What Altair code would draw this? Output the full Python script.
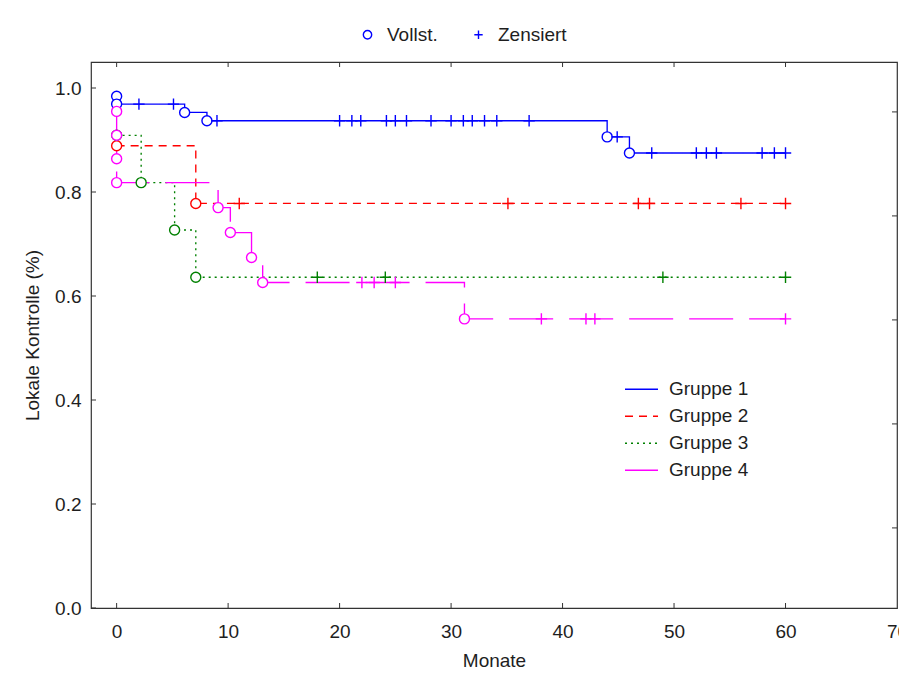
import altair as alt
import pandas as pd

# ---- data -------------------------------------------------------------
groups = ["Gruppe 1", "Gruppe 2", "Gruppe 3", "Gruppe 4"]
colors = ["#0000ff", "#ff0000", "#008000", "#ff00ff"]
dashes = [[1, 0], [8, 6], [2, 4], [44, 16]]
marker_types = ["Vollst.", "Zensiert"]
marker_shapes = ["circle", "M-1,0H1M0,-1V1"]

# events: time (months) and survival estimate right after the event
g1_event_t = [0, 0, 6.1, 8.1, 44.0, 46.0]
g1_event_s = [0.984, 0.969, 0.953, 0.937, 0.906, 0.875]
g1_cens_t = [2.0, 5.1, 9.0, 20.0, 21.1, 21.9, 24.2, 25.0, 26.0, 28.2, 30.0,
             31.1, 31.9, 33.0, 34.1, 37.0, 44.9, 48.0, 52.0, 52.9, 53.8,
             57.9, 59.0, 60.0]

g2_event_t = [0, 7.1]
g2_event_s = [0.889, 0.778]
g2_cens_t = [11.0, 35.1, 46.8, 47.8, 56.0, 60.0]

g3_event_t = [0, 2.2, 5.2, 7.1]
g3_event_s = [0.909, 0.818, 0.727, 0.636]
g3_cens_t = [18.0, 24.1, 49.0, 60.0]

g4_event_t = [0, 0, 0, 0, 9.1, 10.2, 12.1, 13.1, 31.2]
g4_event_s = [0.955, 0.909, 0.864, 0.818, 0.770, 0.722, 0.674, 0.626, 0.556]
g4_cens_t = [22.0, 23.1, 25.0, 38.1, 42.1, 42.9, 60.0]

x_ticks = [0, 10, 20, 30, 40, 50, 60, 70]
y_ticks = [0.0, 0.2, 0.4, 0.6, 0.8, 1.0]
right_ticks = [0.954, 0.754, 0.554, 0.354, 0.154]

series = [
    (g1_event_t, g1_event_s, g1_cens_t),
    (g2_event_t, g2_event_s, g2_cens_t),
    (g3_event_t, g3_event_s, g3_cens_t),
    (g4_event_t, g4_event_s, g4_cens_t),
]

# ---- tables -----------------------------------------------------------
line_rows, point_rows = [], []
for name, (ev_t, ev_s, cens_t) in zip(groups, series):
    i = 0
    for t, s in zip(ev_t, ev_s):
        line_rows.append({"Gruppe": name, "t": t, "S": s, "i": i})
        point_rows.append({"Gruppe": name, "t": t, "S": s, "Typ": "Vollst."})
        i += 1
    # curve continues flat up to the last follow-up time
    line_rows.append({"Gruppe": name, "t": max(cens_t), "S": ev_s[-1], "i": i})
    for t in cens_t:
        s_at = [s for et, s in zip(ev_t, ev_s) if et <= t][-1]
        point_rows.append({"Gruppe": name, "t": t, "S": s_at, "Typ": "Zensiert"})

lines = pd.DataFrame(line_rows)
points = pd.DataFrame(point_rows)
key = pd.DataFrame({"Symbol": marker_types})

FONT = "Liberation Sans, Arial, sans-serif"
TEXT = "#1e1e1e"

xs = alt.Scale(domain=[-2.3, 70], nice=False, zero=False)
ys = alt.Scale(domain=[0, 1.05], nice=False, zero=False)
W, H = 806, 546

group_legend = alt.Legend(
    title=None, orient="none", legendX=533, legendY=314,
    symbolType="stroke", symbolSize=1089, clipHeight=26.5,
    symbolStrokeWidth=1.5, labelOffset=10, rowPadding=0, padding=0,
    labelFont=FONT, labelFontSize=19, labelColor=TEXT,
)

curve = alt.Chart(lines).mark_line(interpolate="step-after", strokeWidth=1.35).encode(
    x=alt.X("t:Q", scale=xs,
            axis=alt.Axis(values=x_ticks, title="Monate", labelPadding=14,
                          titlePadding=10, labelFlush=False, labelOverlap=False)),
    y=alt.Y("S:Q", scale=ys,
            axis=alt.Axis(values=y_ticks, format=".1f", title="Lokale Kontrolle (%)",
                          labelPadding=10, titlePadding=12)),
    color=alt.Color("Gruppe:N", scale=alt.Scale(domain=groups, range=colors),
                    legend=group_legend),
    strokeDash=alt.StrokeDash("Gruppe:N", scale=alt.Scale(domain=groups, range=dashes),
                              legend=group_legend),
    detail="Gruppe:N",
    order="i:Q",
)

# event circles and censoring crosses on the curves
markers = alt.Chart(points).mark_point(filled=False, fill="white", fillOpacity=1,
                                       strokeWidth=1.4, opacity=1).encode(
    x=alt.X("t:Q", scale=xs),
    y=alt.Y("S:Q", scale=ys),
    shape=alt.Shape("Typ:N", scale=alt.Scale(domain=marker_types, range=marker_shapes),
                    legend=None),
    size=alt.Size("Typ:N", scale=alt.Scale(domain=marker_types, range=[100, 130]),
                  legend=None),
    stroke=alt.Stroke("Gruppe:N", scale=alt.Scale(domain=groups, range=colors), legend=None),
)

# marker key above the plot (its layer draws no data, only carries the legend)
marker_legend = alt.Legend(
    title=None, orient="none", legendX=267, legendY=-37, direction="horizontal",
    symbolSize=70, symbolStrokeWidth=1.4, symbolStrokeColor="#0000ff",
    symbolFillColor="white", symbolOpacity=1,
    labelOffset=10, columnPadding=31,
    padding=0, labelFont=FONT, labelFontSize=19, labelColor=TEXT,
)
marker_key = alt.Chart(key).transform_filter("false").mark_point(
    filled=False, color="#0000ff", strokeWidth=1.4, opacity=1
).encode(
    shape=alt.Shape("Symbol:N", scale=alt.Scale(domain=marker_types, range=marker_shapes),
                    legend=marker_legend),
)

# inward tick marks on all four sides of the frame
xt = pd.DataFrame({"t": x_ticks[:-1]})
yt = pd.DataFrame({"S": y_ticks})
rt = pd.DataFrame({"S": right_ticks})
TICK = "#333333"
bottom_ticks = alt.Chart(xt).mark_rule(color=TICK, strokeWidth=1).encode(
    x=alt.X("t:Q", scale=xs), y=alt.value(H), y2=alt.value(H - 5))
top_ticks = alt.Chart(xt).mark_rule(color=TICK, strokeWidth=1).encode(
    x=alt.X("t:Q", scale=xs), y=alt.value(0), y2=alt.value(5))
left_ticks = alt.Chart(yt).mark_rule(color=TICK, strokeWidth=1).encode(
    y=alt.Y("S:Q", scale=ys), x=alt.value(0), x2=alt.value(5))
right_side = alt.Chart(rt).mark_rule(color=TICK, strokeWidth=1).encode(
    y=alt.Y("S:Q", scale=ys), x=alt.value(W), x2=alt.value(W - 5))

chart = alt.layer(
    bottom_ticks, top_ticks, left_ticks, right_side, curve, markers, marker_key
).resolve_scale(
    shape="independent"
).resolve_legend(
    shape="independent"
).properties(
    width=W, height=H,
    autosize=alt.AutoSizeParams(type="none"),
    padding={"left": 91, "top": 62, "right": 2, "bottom": 74},
).configure_view(
    stroke="#333333", strokeWidth=1.2
).configure_axis(
    grid=False, ticks=False, domain=False,
    labelFont=FONT, labelFontSize=19, labelColor=TEXT,
    titleFont=FONT, titleFontSize=19, titleFontWeight="normal", titleColor=TEXT,
)

chart.save("out.html", embed_options={"renderer": "svg", "actions": False})
